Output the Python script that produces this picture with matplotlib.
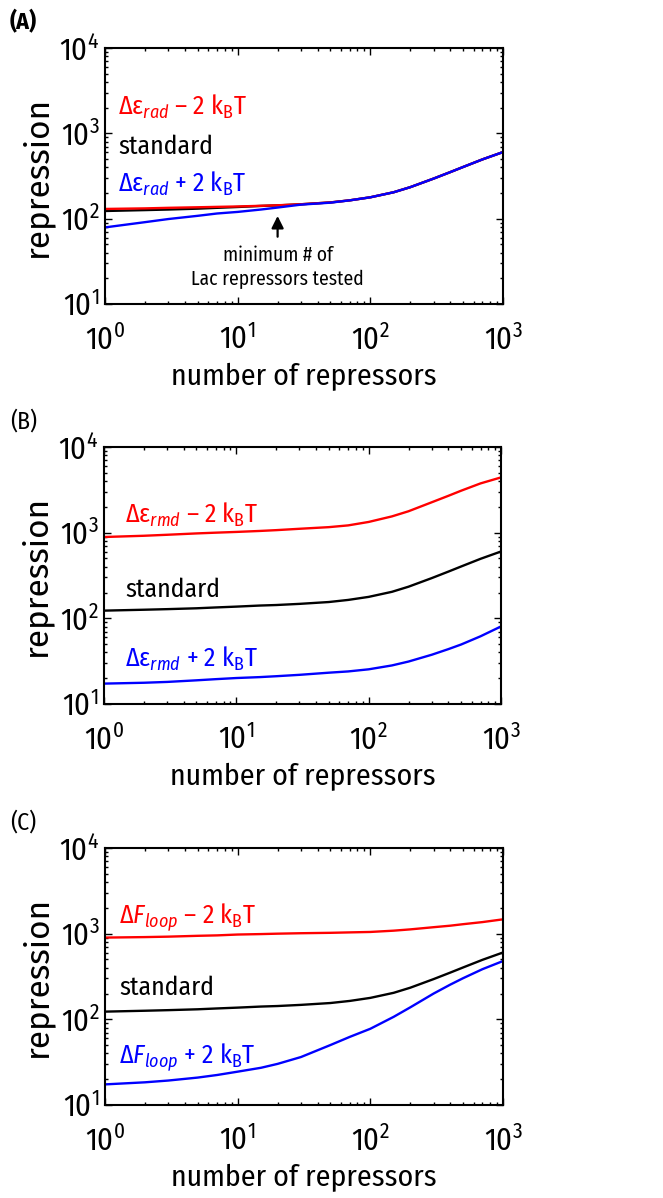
import numpy as np
import matplotlib
matplotlib.use("Agg")
import matplotlib.pyplot as plt
from matplotlib.ticker import LogLocator, NullFormatter

COND = "Fira Sans Condensed"
plt.rcParams["font.family"] = [COND, "DejaVu Sans"]
plt.rcParams["mathtext.fontset"] = "custom"
plt.rcParams["mathtext.rm"] = COND
plt.rcParams["mathtext.it"] = COND + ":italic"
plt.rcParams["mathtext.bf"] = COND + ":bold"

# number of repressors (x) at which curve values were read
n_rep = [1, 2, 3, 5, 7, 10, 15, 20, 30, 50, 70, 100, 150, 200, 300, 400, 500, 700, 1000]

# standard parameters (same curve in all panels)
standard = [123, 126, 128, 131, 134, 137, 141, 143, 147.5, 155, 164, 178, 204, 234, 295, 351, 403, 495, 603]

# panel A: radial energy
rad_minus = [130, 132, 134, 136, 137.5, 139, 141.5, 143.5, 147.5, 155, 164, 178, 204, 234, 295, 351, 403, 495, 603]
rad_plus = [79, 91, 99, 108, 115, 120, 128, 135, 146, 154, 164, 178, 204, 234, 295, 351, 403, 495, 603]

# panel B: rmd energy
rmd_minus = [890, 920, 945, 980, 1000, 1020, 1047, 1070, 1110, 1160, 1216, 1334, 1549, 1778, 2265, 2692, 3090, 3758, 4416]
rmd_plus = [17.3, 17.7, 18.1, 18.9, 19.5, 20.1, 20.6, 21.1, 21.9, 23.2, 24.0, 25.4, 28.2, 31.3, 37.6, 43.7, 49.5, 61.7, 80.4]

# panel C: loop free energy
loop_minus = [900, 912, 923, 944, 955, 977, 989, 1000, 1012, 1023, 1035, 1047, 1084, 1122, 1190, 1239, 1290, 1365, 1470]
loop_plus = [17.4, 18.4, 19.3, 20.9, 22.4, 24.5, 27.2, 30.2, 36.3, 50.1, 62.4, 77.6, 107, 138, 200, 254, 302, 385, 479]

RED = "#ff0000"
BLUE = "#0000ff"

fig = plt.figure(figsize=(6.63, 11.98), dpi=100)

W, H = 663.0, 1198.0
boxes = [(105, 48, 503, 304), (104, 447, 501, 704), (105, 848, 503, 1105)]

panels = [
    ("(A)", "bold", rad_minus, rad_plus, r"$_{\mathit{rad}}$",
     [(0.033, 0.738), (0.033, 0.586), (0.033, 0.4375)]),
    ("(B)", "normal", rmd_minus, rmd_plus, r"$_{\mathit{rmd}}$",
     [(0.053, 0.704), (0.053, 0.416), (0.053, 0.145)]),
    ("(C)", "normal", loop_minus, loop_plus, r"$_{\mathit{loop}}$",
     [(0.035, 0.708), (0.035, 0.428), (0.035, 0.163)]),
]

for (l, t, r, b), (tag, weight, minus, plus, sub, pos) in zip(boxes, panels):
    ax = fig.add_axes([l / W, 1 - b / H, (r - l) / W, (b - t) / H])
    ax.plot(n_rep, standard, color="black", lw=1.7)
    ax.plot(n_rep, minus, color=RED, lw=1.7)
    ax.plot(n_rep, plus, color=BLUE, lw=1.7)
    ax.set_xscale("log")
    ax.set_yscale("log")
    ax.set_xlim(1, 1000)
    ax.set_ylim(10, 10000)
    ax.xaxis.set_major_locator(LogLocator(base=10, numticks=10))
    ax.yaxis.set_major_locator(LogLocator(base=10, numticks=10))
    ax.xaxis.set_minor_locator(LogLocator(base=10, subs=np.arange(2, 10), numticks=20))
    ax.yaxis.set_minor_locator(LogLocator(base=10, subs=np.arange(2, 10), numticks=20))
    ax.xaxis.set_minor_formatter(NullFormatter())
    ax.yaxis.set_minor_formatter(NullFormatter())
    ax.tick_params(which="both", direction="in", top=True, right=True,
                   labelsize=22, width=1.0)
    ax.tick_params(which="major", length=5)
    ax.tick_params(which="minor", length=2.5)
    ax.tick_params(axis="x", pad=15)
    ax.tick_params(axis="y", pad=4)
    for sp in ax.spines.values():
        sp.set_linewidth(1.5)
    ax.set_xlabel("number of repressors", fontsize=21.5, labelpad=5)
    ax.set_ylabel("repression", fontsize=24, family="Fira Sans", labelpad=5)

    if tag == "(C)":
        head = r"Δ$\mathit{F}$" + sub
    else:
        head = "Δε" + sub
    ax.text(pos[0][0], pos[0][1], head + r" – 2 k$_\mathrm{B}$T",
            transform=ax.transAxes, color=RED, fontsize=18.5, va="baseline")
    ax.text(pos[1][0], pos[1][1], "standard", transform=ax.transAxes,
            color="black", fontsize=18.5, va="baseline")
    ax.text(pos[2][0], pos[2][1], head + r" + 2 k$_\mathrm{B}$T",
            transform=ax.transAxes, color=BLUE, fontsize=18.5, va="baseline")

    fig.text(10 / W, 1 - (t - 38) / H, tag, fontsize=17, fontweight=weight,
             va="top", ha="left")

    if tag == "(A)":
        ax.annotate("", xy=(20, 116), xytext=(20, 57),
                    arrowprops=dict(arrowstyle="-|>", color="black", lw=1.6,
                                    mutation_scale=18))
        ax.text(20, 48, "minimum # of\nLac repressors tested", ha="center",
                va="top", fontsize=14, linespacing=1.25)

fig.savefig("out.png", dpi=100)
